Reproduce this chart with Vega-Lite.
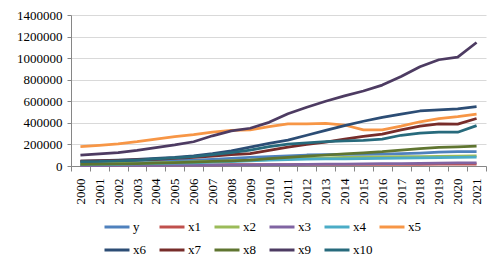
{
  "$schema": "https://vega.github.io/schema/vega-lite/v6.json",
  "autosize": "none",
  "width": 415,
  "height": 151,
  "padding": {"left": 71, "top": 15, "right": 15, "bottom": 101},
  "background": "white",
  "config": {
    "view": {"stroke": null},
    "font": "Liberation Serif"
  },
  "data": {"values": [
    {"year":"2000","s":"y","v":30000},{"year":"2001","s":"y","v":33000},{"year":"2002","s":"y","v":36000},{"year":"2003","s":"y","v":40000},{"year":"2004","s":"y","v":45000},{"year":"2005","s":"y","v":50000},{"year":"2006","s":"y","v":55000},{"year":"2007","s":"y","v":62000},{"year":"2008","s":"y","v":70000},{"year":"2009","s":"y","v":80000},{"year":"2010","s":"y","v":88000},{"year":"2011","s":"y","v":95000},{"year":"2012","s":"y","v":102000},{"year":"2013","s":"y","v":105000},{"year":"2014","s":"y","v":107000},{"year":"2015","s":"y","v":108000},{"year":"2016","s":"y","v":110000},{"year":"2017","s":"y","v":115000},{"year":"2018","s":"y","v":120000},{"year":"2019","s":"y","v":128000},{"year":"2020","s":"y","v":133000},{"year":"2021","s":"y","v":133000},
    {"year":"2000","s":"x1","v":8000},{"year":"2001","s":"x1","v":8500},{"year":"2002","s":"x1","v":9000},{"year":"2003","s":"x1","v":9500},{"year":"2004","s":"x1","v":10000},{"year":"2005","s":"x1","v":10500},{"year":"2006","s":"x1","v":11000},{"year":"2007","s":"x1","v":11500},{"year":"2008","s":"x1","v":12000},{"year":"2009","s":"x1","v":12500},{"year":"2010","s":"x1","v":13000},{"year":"2011","s":"x1","v":13500},{"year":"2012","s":"x1","v":14000},{"year":"2013","s":"x1","v":14500},{"year":"2014","s":"x1","v":15000},{"year":"2015","s":"x1","v":15000},{"year":"2016","s":"x1","v":15500},{"year":"2017","s":"x1","v":15500},{"year":"2018","s":"x1","v":16000},{"year":"2019","s":"x1","v":16500},{"year":"2020","s":"x1","v":17000},{"year":"2021","s":"x1","v":17000},
    {"year":"2000","s":"x2","v":20000},{"year":"2001","s":"x2","v":22000},{"year":"2002","s":"x2","v":24000},{"year":"2003","s":"x2","v":27000},{"year":"2004","s":"x2","v":30000},{"year":"2005","s":"x2","v":34000},{"year":"2006","s":"x2","v":38000},{"year":"2007","s":"x2","v":43000},{"year":"2008","s":"x2","v":48000},{"year":"2009","s":"x2","v":54000},{"year":"2010","s":"x2","v":60000},{"year":"2011","s":"x2","v":66000},{"year":"2012","s":"x2","v":72000},{"year":"2013","s":"x2","v":76000},{"year":"2014","s":"x2","v":80000},{"year":"2015","s":"x2","v":82000},{"year":"2016","s":"x2","v":84000},{"year":"2017","s":"x2","v":86000},{"year":"2018","s":"x2","v":88000},{"year":"2019","s":"x2","v":90000},{"year":"2020","s":"x2","v":92000},{"year":"2021","s":"x2","v":94000},
    {"year":"2000","s":"x3","v":4000},{"year":"2001","s":"x3","v":4500},{"year":"2002","s":"x3","v":5000},{"year":"2003","s":"x3","v":5500},{"year":"2004","s":"x3","v":6000},{"year":"2005","s":"x3","v":7000},{"year":"2006","s":"x3","v":8000},{"year":"2007","s":"x3","v":9000},{"year":"2008","s":"x3","v":10000},{"year":"2009","s":"x3","v":11000},{"year":"2010","s":"x3","v":12000},{"year":"2011","s":"x3","v":13500},{"year":"2012","s":"x3","v":15000},{"year":"2013","s":"x3","v":16500},{"year":"2014","s":"x3","v":18000},{"year":"2015","s":"x3","v":19500},{"year":"2016","s":"x3","v":21000},{"year":"2017","s":"x3","v":22500},{"year":"2018","s":"x3","v":24000},{"year":"2019","s":"x3","v":26000},{"year":"2020","s":"x3","v":28000},{"year":"2021","s":"x3","v":30000},
    {"year":"2000","s":"x4","v":12000},{"year":"2001","s":"x4","v":14000},{"year":"2002","s":"x4","v":16000},{"year":"2003","s":"x4","v":19000},{"year":"2004","s":"x4","v":22000},{"year":"2005","s":"x4","v":26000},{"year":"2006","s":"x4","v":30000},{"year":"2007","s":"x4","v":35000},{"year":"2008","s":"x4","v":40000},{"year":"2009","s":"x4","v":47000},{"year":"2010","s":"x4","v":55000},{"year":"2011","s":"x4","v":60000},{"year":"2012","s":"x4","v":63000},{"year":"2013","s":"x4","v":65000},{"year":"2014","s":"x4","v":67000},{"year":"2015","s":"x4","v":68000},{"year":"2016","s":"x4","v":70000},{"year":"2017","s":"x4","v":72000},{"year":"2018","s":"x4","v":75000},{"year":"2019","s":"x4","v":78000},{"year":"2020","s":"x4","v":80000},{"year":"2021","s":"x4","v":82000},
    {"year":"2000","s":"x5","v":180000},{"year":"2001","s":"x5","v":192000},{"year":"2002","s":"x5","v":205000},{"year":"2003","s":"x5","v":225000},{"year":"2004","s":"x5","v":250000},{"year":"2005","s":"x5","v":272000},{"year":"2006","s":"x5","v":290000},{"year":"2007","s":"x5","v":315000},{"year":"2008","s":"x5","v":330000},{"year":"2009","s":"x5","v":335000},{"year":"2010","s":"x5","v":365000},{"year":"2011","s":"x5","v":390000},{"year":"2012","s":"x5","v":390000},{"year":"2013","s":"x5","v":395000},{"year":"2014","s":"x5","v":380000},{"year":"2015","s":"x5","v":335000},{"year":"2016","s":"x5","v":335000},{"year":"2017","s":"x5","v":370000},{"year":"2018","s":"x5","v":410000},{"year":"2019","s":"x5","v":440000},{"year":"2020","s":"x5","v":457000},{"year":"2021","s":"x5","v":480000},
    {"year":"2000","s":"x6","v":45000},{"year":"2001","s":"x6","v":50000},{"year":"2002","s":"x6","v":55000},{"year":"2003","s":"x6","v":62000},{"year":"2004","s":"x6","v":70000},{"year":"2005","s":"x6","v":80000},{"year":"2006","s":"x6","v":95000},{"year":"2007","s":"x6","v":115000},{"year":"2008","s":"x6","v":140000},{"year":"2009","s":"x6","v":175000},{"year":"2010","s":"x6","v":210000},{"year":"2011","s":"x6","v":240000},{"year":"2012","s":"x6","v":285000},{"year":"2013","s":"x6","v":330000},{"year":"2014","s":"x6","v":375000},{"year":"2015","s":"x6","v":415000},{"year":"2016","s":"x6","v":450000},{"year":"2017","s":"x6","v":480000},{"year":"2018","s":"x6","v":510000},{"year":"2019","s":"x6","v":520000},{"year":"2020","s":"x6","v":530000},{"year":"2021","s":"x6","v":550000},
    {"year":"2000","s":"x7","v":45000},{"year":"2001","s":"x7","v":48000},{"year":"2002","s":"x7","v":52000},{"year":"2003","s":"x7","v":56000},{"year":"2004","s":"x7","v":62000},{"year":"2005","s":"x7","v":70000},{"year":"2006","s":"x7","v":80000},{"year":"2007","s":"x7","v":92000},{"year":"2008","s":"x7","v":105000},{"year":"2009","s":"x7","v":115000},{"year":"2010","s":"x7","v":145000},{"year":"2011","s":"x7","v":175000},{"year":"2012","s":"x7","v":200000},{"year":"2013","s":"x7","v":222000},{"year":"2014","s":"x7","v":250000},{"year":"2015","s":"x7","v":275000},{"year":"2016","s":"x7","v":295000},{"year":"2017","s":"x7","v":335000},{"year":"2018","s":"x7","v":370000},{"year":"2019","s":"x7","v":390000},{"year":"2020","s":"x7","v":388000},{"year":"2021","s":"x7","v":440000},
    {"year":"2000","s":"x8","v":15000},{"year":"2001","s":"x8","v":18000},{"year":"2002","s":"x8","v":20000},{"year":"2003","s":"x8","v":23000},{"year":"2004","s":"x8","v":27000},{"year":"2005","s":"x8","v":32000},{"year":"2006","s":"x8","v":37000},{"year":"2007","s":"x8","v":42000},{"year":"2008","s":"x8","v":48000},{"year":"2009","s":"x8","v":55000},{"year":"2010","s":"x8","v":68000},{"year":"2011","s":"x8","v":80000},{"year":"2012","s":"x8","v":92000},{"year":"2013","s":"x8","v":102000},{"year":"2014","s":"x8","v":112000},{"year":"2015","s":"x8","v":122000},{"year":"2016","s":"x8","v":133000},{"year":"2017","s":"x8","v":148000},{"year":"2018","s":"x8","v":162000},{"year":"2019","s":"x8","v":172000},{"year":"2020","s":"x8","v":178000},{"year":"2021","s":"x8","v":185000},
    {"year":"2000","s":"x9","v":100000},{"year":"2001","s":"x9","v":112000},{"year":"2002","s":"x9","v":125000},{"year":"2003","s":"x9","v":145000},{"year":"2004","s":"x9","v":170000},{"year":"2005","s":"x9","v":195000},{"year":"2006","s":"x9","v":225000},{"year":"2007","s":"x9","v":280000},{"year":"2008","s":"x9","v":325000},{"year":"2009","s":"x9","v":350000},{"year":"2010","s":"x9","v":405000},{"year":"2011","s":"x9","v":485000},{"year":"2012","s":"x9","v":545000},{"year":"2013","s":"x9","v":600000},{"year":"2014","s":"x9","v":650000},{"year":"2015","s":"x9","v":695000},{"year":"2016","s":"x9","v":750000},{"year":"2017","s":"x9","v":830000},{"year":"2018","s":"x9","v":920000},{"year":"2019","s":"x9","v":985000},{"year":"2020","s":"x9","v":1010000},{"year":"2021","s":"x9","v":1145000},
    {"year":"2000","s":"x10","v":40000},{"year":"2001","s":"x10","v":42000},{"year":"2002","s":"x10","v":48000},{"year":"2003","s":"x10","v":55000},{"year":"2004","s":"x10","v":65000},{"year":"2005","s":"x10","v":75000},{"year":"2006","s":"x10","v":88000},{"year":"2007","s":"x10","v":105000},{"year":"2008","s":"x10","v":125000},{"year":"2009","s":"x10","v":148000},{"year":"2010","s":"x10","v":180000},{"year":"2011","s":"x10","v":203000},{"year":"2012","s":"x10","v":215000},{"year":"2013","s":"x10","v":225000},{"year":"2014","s":"x10","v":232000},{"year":"2015","s":"x10","v":238000},{"year":"2016","s":"x10","v":250000},{"year":"2017","s":"x10","v":285000},{"year":"2018","s":"x10","v":305000},{"year":"2019","s":"x10","v":313000},{"year":"2020","s":"x10","v":313000},{"year":"2021","s":"x10","v":374000}
  ]},
  "mark": {"type": "line", "strokeWidth": 2.75, "strokeJoin": "round", "strokeCap": "butt"},
  "encoding": {
    "x": {
      "field": "year", "type": "ordinal",
      "scale": {"type": "band", "paddingInner": 0, "paddingOuter": 0},
      "axis": {
        "title": null, "labelAngle": -90, "labelAlign": "right", "labelBaseline": "middle",
        "labelFont": "Liberation Serif", "labelFontSize": 13, "labelColor": "#000000",
        "tickBand": "extent", "tickSize": 5, "tickColor": "#868686", "domainColor": "#868686",
        "labelPadding": 7, "grid": false
      }
    },
    "y": {
      "field": "v", "type": "quantitative",
      "scale": {"domain": [0, 1400000], "nice": false},
      "axis": {
        "title": null, "values": [0,200000,400000,600000,800000,1000000,1200000,1400000],
        "format": "d", "labelFont": "Liberation Serif", "labelFontSize": 13, "labelColor": "#000000",
        "tickSize": 4, "tickColor": "#868686", "domainColor": "#868686", "labelPadding": 5,
        "grid": true, "gridColor": "#D9D9D9", "gridWidth": 1
      }
    },
    "color": {
      "field": "s", "type": "nominal",
      "scale": {
        "domain": ["y","x1","x2","x3","x4","x5","x6","x7","x8","x9","x10"],
        "range": ["#4F81BD","#C0504D","#9BBB59","#8064A2","#4BACC6","#F79646","#2C4D75","#772C2A","#5F7530","#4D3B62","#276A7C"]
      },
      "legend": {
        "title": null, "orient": "none", "legendX": 32, "legendY": 198,
        "direction": "horizontal", "columns": 6, "gridAlign": "all",
        "symbolType": "stroke", "symbolSize": 625, "symbolStrokeWidth": 3,
        "labelFont": "Liberation Serif", "labelFontSize": 13, "labelColor": "#000000",
        "labelOffset": 2, "columnPadding": 0, "rowPadding": 2
      }
    }
  }
}
